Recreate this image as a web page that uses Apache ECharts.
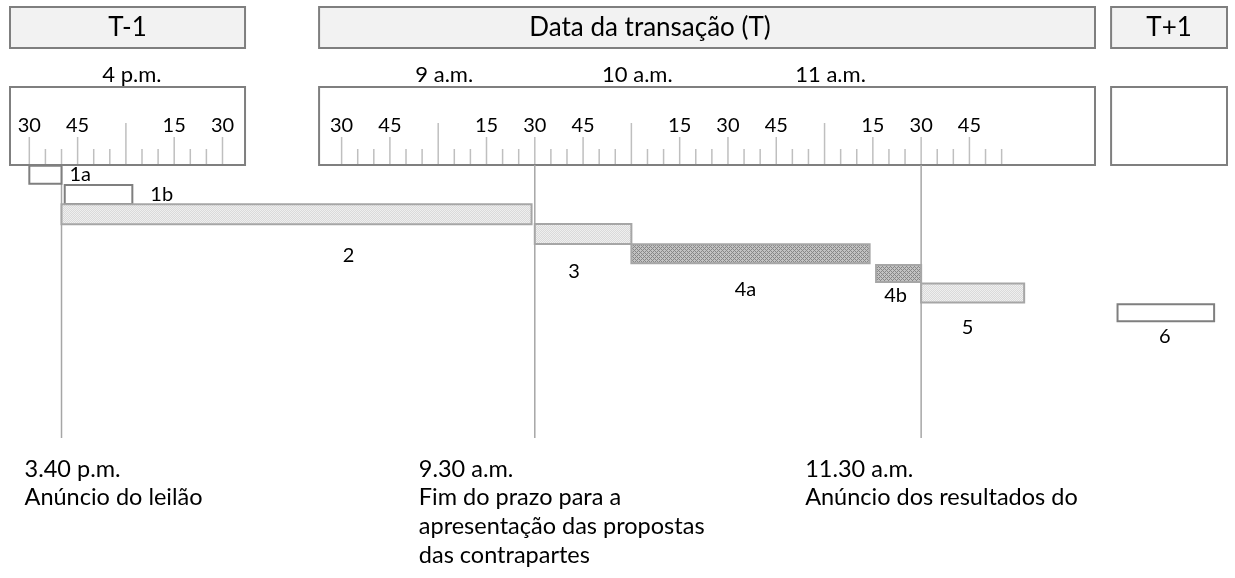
<!DOCTYPE html>
<html>
<head>
<meta charset="utf-8">
<title>Calendário do leilão</title>
<script src="https://cdn.jsdelivr.net/npm/echarts@6/dist/echarts.min.js"></script>
<style>
    html, body { margin: 0; padding: 0; background: #fff; }
    #chart { width: 1235px; height: 578px; }
</style>
</head>
<body>
<div id="chart"></div>
<script>
// painéis do eixo (um por dia)
var panelDays = ['T-1', 'T', 'T+1'];
var panelTitles = ['T-1', 'Data da transação (T)', 'T+1'];
var panelFrom = ['15:24', '8:23', '9:00'];
var panelTo = ['16:37', '12:24', '9:36'];
var panelGap = [23, 5, 0]; // minutos em branco depois de cada painel

// régua
var rulerFrom = ['T-1 15:30', 'T 8:30'];
var rulerTo = ['T-1 16:30', 'T 11:55'];
var quarterTicks = ['T-1 15:30', 'T-1 15:45', 'T-1 16:15', 'T-1 16:30',
    'T 8:30', 'T 8:45', 'T 9:15', 'T 9:30', 'T 9:45', 'T 10:15', 'T 10:30', 'T 10:45',
    'T 11:15', 'T 11:30', 'T 11:45'];
var quarterLabels = ['30', '45', '15', '30', '30', '45', '15', '30', '45', '15', '30', '45', '15', '30', '45'];
var hourTicks = ['T-1 16:00', 'T 9:00', 'T 10:00', 'T 11:00'];
var hourLabels = ['4 p.m.', '9 a.m.', '10 a.m.', '11 a.m.'];

// etapas
var stepNames = ['1a', '1b', '2', '3', '4a', '4b', '5', '6'];
var stepStart = ['T-1 15:30', 'T-1 15:41', 'T-1 15:40', 'T 9:30', 'T 10:00', 'T 11:16', 'T 11:30', 'T+1 9:02'];
var stepEnd = ['T-1 15:40', 'T-1 16:02', 'T 9:29', 'T 10:00', 'T 11:14', 'T 11:30', 'T 12:02', 'T+1 9:32'];
var stepRow = [0, 1, 2, 3, 4, 5, 6, 7];

// marcos
var markAt = ['T-1 15:40', 'T 9:30', 'T 11:30'];
var markTexts = [
    ['3.40 p.m.', 'Anúncio do leilão'],
    ['9.30 a.m.', 'Fim do prazo para a', 'apresentação das propostas', 'das contrapartes'],
    ['11.30 a.m.', 'Anúncio dos resultados do']
];

// ---- estilos ----
var FONT = 'Lato, "Open Sans", sans-serif';
var titleDx = [0, -57, 0];
var stepStyle = {
    '1a': { kind: 'open', h: 18, pos: 'right', dx: 8, dy: 0 },
    '1b': { kind: 'open', h: 19, pos: 'right', dx: 18, dy: 0 },
    '2': { kind: 'light', h: 20, pos: 'below', dx: 52, dy: 41 },
    '3': { kind: 'light', h: 20, pos: 'below', dx: -9, dy: 38 },
    '4a': { kind: 'dark', h: 19, pos: 'below', dx: -5, dy: 36 },
    '4b': { kind: 'dark', h: 17, pos: 'below', dx: -3, dy: 22 },
    '5': { kind: 'light', h: 19, pos: 'below', dx: -5, dy: 34 },
    '6': { kind: 'open', h: 17, pos: 'below', dx: -1, dy: 24 }
};
var markTextDx = [-37, -116, -116];

function makePattern(size, pick) {
    var c = document.createElement('canvas');
    c.width = size;
    c.height = size;
    var ctx = c.getContext('2d');
    for (var x = 0; x < size; x++) {
        for (var y = 0; y < size; y++) {
            ctx.fillStyle = pick(x, y);
            ctx.fillRect(x, y, 1, 1);
        }
    }
    return { image: c, repeat: 'repeat' };
}
var fills = {
    open: '#ffffff',
    light: makePattern(2, function (x, y) { return (x + y) % 2 ? '#dadada' : '#efefef'; }),
    dark: makePattern(4, function (x, y) {
        return ((x + y) % 4 === 0 || (x - y + 4) % 4 === 0) ? '#878787' : '#c2c2c2';
    })
};
var strokes = { open: '#7f7f7f', light: '#a6a6a6', dark: '#a6a6a6' };

// ---- eixo composto: minutos de cada painel postos lado a lado ----
function toMin(hm) {
    var p = hm.split(':');
    return +p[0] * 60 + +p[1];
}
var panelStart = {};
var acc = 0;
for (var i = 0; i < panelDays.length; i++) {
    panelStart[panelDays[i]] = acc;
    acc += toMin(panelTo[i]) - toMin(panelFrom[i]) + panelGap[i];
}
var axisMax = acc;
function toAxis(s) {
    var p = s.split(' ');
    return panelStart[p[0]] + toMin(p[1]) - toMin(panelFrom[panelDays.indexOf(p[0])]);
}

function txt(x, y, text, size, align) {
    return {
        type: 'text',
        x: x, y: y,
        style: {
            text: text, fill: '#000', fontSize: size, fontFamily: FONT,
            align: align || 'center', verticalAlign: 'middle',
            textAlign: align || 'center', textVerticalAlign: 'middle'
        }
    };
}

var chart = echarts.init(document.getElementById('chart'));

var panelData = panelDays.map(function (d, i) {
    return [toAxis(d + ' ' + panelFrom[i]), toAxis(d + ' ' + panelTo[i]), i];
});

var tickData = [];
rulerFrom.forEach(function (f, r) {
    var day = f.split(' ')[0];
    for (var m = toMin(f.split(' ')[1]); m <= toMin(rulerTo[r].split(' ')[1]); m += 5) {
        var key = day + ' ' + Math.floor(m / 60) + ':' + ('0' + m % 60).slice(-2);
        var kind = hourTicks.indexOf(key) >= 0 ? 2 : (quarterTicks.indexOf(key) >= 0 ? 1 : 0);
        tickData.push([toAxis(key), kind, key]);
    }
});

var stepData = stepNames.map(function (n, i) {
    return [toAxis(stepStart[i]), toAxis(stepEnd[i]), stepRow[i]];
});

var markData = markAt.map(function (m, i) { return [toAxis(m), i]; });

var option = {
    animation: false,
    grid: { left: 10, right: 8, top: 165, bottom: 140 },
    xAxis: { type: 'value', min: 0, max: axisMax, show: false },
    yAxis: { type: 'value', inverse: true, min: -0.5, max: 13.35, show: false },
    series: [
        {
            // cabeçalhos e caixas da régua
            type: 'custom',
            data: panelData,
            renderItem: function (params, api) {
                var x0 = api.coord([api.value(0), 0])[0];
                var x1 = api.coord([api.value(1), 0])[0];
                var k = api.value(2);
                return {
                    type: 'group',
                    children: [
                        { type: 'rect', shape: { x: x0, y: 7, width: x1 - x0, height: 41 },
                          style: { fill: '#f2f2f2', stroke: '#7f7f7f', lineWidth: 2 } },
                        txt((x0 + x1) / 2 + titleDx[k], 28, panelTitles[k], 26),
                        { type: 'rect', shape: { x: x0, y: 87, width: x1 - x0, height: 78 },
                          style: { fill: '#fff', stroke: '#7f7f7f', lineWidth: 2 } }
                    ]
                };
            }
        },
        {
            // marcas da régua
            type: 'custom',
            data: tickData,
            renderItem: function (params, api) {
                var x = api.coord([api.value(0), 0])[0];
                var kind = api.value(1);
                var key = tickData[params.dataIndex][2];
                var len = [15, 27, 41][kind];
                var ch = [{ type: 'line', shape: { x1: x, y1: 164, x2: x, y2: 164 - len },
                            style: { stroke: '#bfbfbf', lineWidth: 1.5 } }];
                var q = quarterTicks.indexOf(key);
                if (q >= 0) ch.push(txt(x, 126, quarterLabels[q], 20));
                var h = hourTicks.indexOf(key);
                if (h >= 0) ch.push(txt(x + 6, 75, hourLabels[h], 22));
                return { type: 'group', children: ch };
            }
        },
        {
            // linhas dos marcos e textos
            type: 'custom',
            data: markData,
            renderItem: function (params, api) {
                var top = api.coord([api.value(0), -0.5]);
                var bot = api.coord([api.value(0), 13.35]);
                var i = api.value(1);
                var ch = [{ type: 'line', shape: { x1: top[0], y1: top[1], x2: bot[0], y2: bot[1] },
                            style: { stroke: '#a6a6a6', lineWidth: 1.5 } }];
                markTexts[i].forEach(function (t, k) {
                    ch.push(txt(top[0] + markTextDx[i], 469 + k * 28.7, t, 23.5, 'left'));
                });
                return { type: 'group', children: ch };
            }
        },
        {
            // etapas
            type: 'custom',
            data: stepData,
            renderItem: function (params, api) {
                var name = stepNames[params.dataIndex];
                var st = stepStyle[name];
                var p0 = api.coord([api.value(0), api.value(2)]);
                var p1 = api.coord([api.value(1), api.value(2)]);
                var label = st.pos === 'right'
                    ? txt(p1[0] + st.dx, p1[1] + st.dy, name, 20, 'left')
                    : txt((p0[0] + p1[0]) / 2 + st.dx, p0[1] + st.dy, name, 20);
                return {
                    type: 'group',
                    children: [
                        { type: 'rect', shape: { x: p0[0], y: p0[1] - st.h / 2, width: p1[0] - p0[0], height: st.h },
                          style: { fill: fills[st.kind], stroke: strokes[st.kind], lineWidth: 2 } },
                        label
                    ]
                };
            }
        }
    ]
};

chart.setOption(option);
</script>
</body>
</html>
